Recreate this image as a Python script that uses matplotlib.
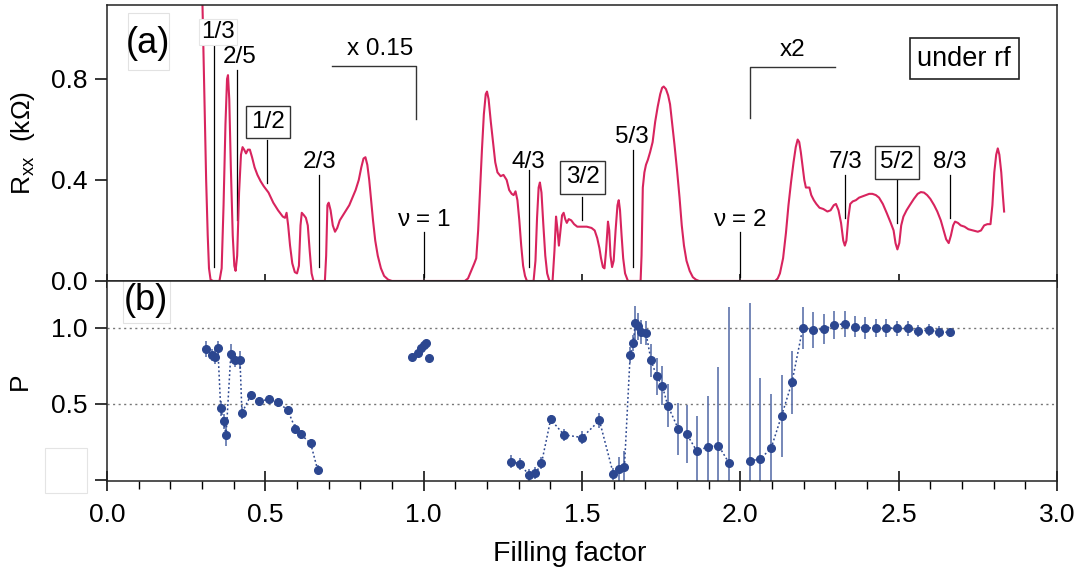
import numpy as np
import matplotlib
matplotlib.use("Agg")
from matplotlib import pyplot as plt
from matplotlib.patches import Rectangle
from matplotlib.ticker import MultipleLocator

plt.rcParams['font.family'] = ['Liberation Sans', 'DejaVu Sans']

# ---- panel (a): Rxx vs filling factor (kOhm) ----
nu_rxx = [0.298, 0.303, 0.308, 0.313, 0.318, 0.322, 0.327, 0.335, 0.355, 0.362,
          0.368, 0.374, 0.379, 0.382, 0.386, 0.391, 0.397, 0.402, 0.406, 0.411,
          0.417, 0.423, 0.428, 0.433, 0.439, 0.445, 0.451, 0.458, 0.466, 0.475,
          0.485, 0.495, 0.51, 0.525, 0.54, 0.555, 0.562, 0.567, 0.572, 0.578,
          0.585, 0.593, 0.600, 0.606, 0.611, 0.615, 0.622, 0.628, 0.634, 0.640,
          0.646, 0.652, 0.688, 0.692, 0.696, 0.700, 0.706, 0.713, 0.72, 0.727,
          0.735, 0.745, 0.755, 0.765, 0.775, 0.785, 0.795, 0.803, 0.81, 0.816,
          0.822, 0.828, 0.834, 0.84, 0.847, 0.855, 0.865, 0.875, 0.888, 0.90,
          1.13, 1.14, 1.15, 1.16, 1.166, 1.172, 1.178, 1.184, 1.19, 1.196,
          1.200, 1.205, 1.212, 1.219, 1.226, 1.233, 1.243, 1.252, 1.262, 1.27,
          1.278, 1.284, 1.29, 1.296, 1.302, 1.308, 1.314, 1.32, 1.326, 1.347,
          1.353, 1.358, 1.363, 1.367, 1.372, 1.378, 1.384, 1.39, 1.397, 1.407,
          1.413, 1.418, 1.422, 1.427, 1.432, 1.437, 1.442, 1.447, 1.452, 1.458,
          1.466, 1.475, 1.485, 1.5, 1.515, 1.53, 1.54, 1.548, 1.555, 1.56,
          1.566, 1.571, 1.576, 1.582, 1.586, 1.59, 1.595, 1.6, 1.606, 1.612,
          1.616, 1.62, 1.625, 1.63, 1.636, 1.645, 1.685, 1.688, 1.692, 1.697,
          1.702, 1.708, 1.715, 1.723, 1.731, 1.739, 1.747, 1.753, 1.758, 1.765,
          1.772, 1.778, 1.785, 1.792, 1.8, 1.808, 1.815, 1.822, 1.83, 1.84,
          1.85, 1.86, 1.87, 2.11, 2.118, 2.125, 2.135, 2.144, 2.152, 2.16,
          2.168, 2.175, 2.181, 2.186, 2.191, 2.196, 2.202, 2.207, 2.213, 2.218,
          2.224, 2.232, 2.24, 2.25, 2.262, 2.275, 2.285, 2.295, 2.302, 2.31,
          2.318, 2.325, 2.33, 2.335, 2.341, 2.347, 2.355, 2.365, 2.375, 2.386,
          2.397, 2.407, 2.417, 2.428, 2.438, 2.45, 2.462, 2.475, 2.484, 2.49,
          2.496, 2.502, 2.508, 2.515, 2.525, 2.535, 2.548, 2.56, 2.57, 2.58,
          2.59, 2.6, 2.612, 2.622, 2.633, 2.642, 2.65, 2.658, 2.665, 2.672,
          2.678, 2.687, 2.696, 2.708, 2.72, 2.735, 2.75, 2.76, 2.77, 2.78,
          2.79, 2.796, 2.802, 2.808, 2.813, 2.818, 2.824, 2.829, 2.833]
rxx = [1.30, 1.00, 0.70, 0.40, 0.18, 0.05, 0.005, 0.0, 0.0, 0.05,
       0.30, 0.62, 0.80, 0.815, 0.72, 0.45, 0.18, 0.06, 0.04, 0.10,
       0.35, 0.50, 0.53, 0.52, 0.505, 0.52, 0.52, 0.49, 0.45, 0.42,
       0.395, 0.375, 0.35, 0.31, 0.28, 0.255, 0.25, 0.27, 0.22, 0.14,
       0.07, 0.035, 0.03, 0.06, 0.22, 0.27, 0.26, 0.25, 0.22, 0.12,
       0.03, 0.0, 0.0, 0.10, 0.30, 0.31, 0.28, 0.22, 0.195, 0.21,
       0.24, 0.26, 0.28, 0.30, 0.33, 0.36, 0.40, 0.45, 0.485, 0.49,
       0.46, 0.40, 0.32, 0.24, 0.16, 0.10, 0.05, 0.02, 0.005, 0.0,
       0.0, 0.01, 0.04, 0.07, 0.09, 0.20, 0.36, 0.52, 0.66, 0.74,
       0.75, 0.72, 0.63, 0.55, 0.47, 0.43, 0.415, 0.42, 0.40, 0.36,
       0.345, 0.34, 0.355, 0.32, 0.24, 0.14, 0.06, 0.02, 0.0, 0.0,
       0.08, 0.25, 0.37, 0.39, 0.35, 0.22, 0.10, 0.03, 0.0, 0.0,
       0.12, 0.255, 0.21, 0.14, 0.20, 0.26, 0.27, 0.245, 0.23, 0.245,
       0.24, 0.225, 0.215, 0.215, 0.215, 0.21, 0.20, 0.17, 0.13, 0.09,
       0.055, 0.05, 0.12, 0.235, 0.20, 0.10, 0.055, 0.08, 0.20, 0.30,
       0.32, 0.28, 0.18, 0.09, 0.03, 0.0, 0.0, 0.10, 0.37, 0.43,
       0.46, 0.48, 0.51, 0.55, 0.63, 0.69, 0.74, 0.765, 0.77, 0.76,
       0.735, 0.70, 0.62, 0.54, 0.44, 0.33, 0.22, 0.14, 0.08, 0.04,
       0.015, 0.005, 0.0, 0.0, 0.01, 0.03, 0.09, 0.19, 0.30, 0.39,
       0.47, 0.53, 0.56, 0.55, 0.51, 0.46, 0.40, 0.37, 0.37, 0.37,
       0.34, 0.32, 0.305, 0.29, 0.285, 0.275, 0.28, 0.30, 0.305, 0.28,
       0.23, 0.16, 0.14, 0.16, 0.25, 0.305, 0.315, 0.32, 0.33, 0.335,
       0.34, 0.345, 0.345, 0.34, 0.33, 0.305, 0.27, 0.23, 0.20, 0.15,
       0.125, 0.15, 0.22, 0.255, 0.28, 0.30, 0.325, 0.345, 0.352, 0.35,
       0.34, 0.325, 0.30, 0.275, 0.24, 0.20, 0.165, 0.15, 0.18, 0.22,
       0.235, 0.23, 0.22, 0.215, 0.205, 0.20, 0.195, 0.20, 0.22, 0.225,
       0.225, 0.30, 0.43, 0.50, 0.525, 0.50, 0.43, 0.34, 0.275]

# fraction labels in panel (a)
frac_names = ['1/3', '2/5', '1/2', '2/3', '4/3', '3/2', '5/3', '7/3', '5/2', '8/3']
frac_nu = [0.337, 0.409, 0.505, 0.670, 1.332, 1.500, 1.662, 2.331, 2.496, 2.661]
boxed = ['1/2', '3/2', '5/2']
nu_int = [1, 2]

# ---- panel (b): polarization P, split into measured runs ----
nu_a = [0.314, 0.330, 0.341, 0.350, 0.359, 0.368, 0.376, 0.391, 0.403, 0.420,
        0.426, 0.454, 0.480, 0.511, 0.540, 0.571, 0.595, 0.611, 0.643, 0.665]
p_a = [0.86, 0.82, 0.81, 0.865, 0.47, 0.385, 0.295, 0.83, 0.785, 0.79,
       0.44, 0.555, 0.515, 0.53, 0.51, 0.457, 0.335, 0.30, 0.24, 0.066]
e_a = [0.05, 0.04, 0.05, 0.05, 0.05, 0.05, 0.07, 0.06, 0.04, 0.06,
       0.04, 0.03, 0.03, 0.03, 0.03, 0.03, 0.03, 0.03, 0.03, 0.03]

nu_b = [0.963, 0.982, 0.992, 1.000, 1.008, 1.016]
p_b = [0.81, 0.837, 0.866, 0.888, 0.898, 0.80]
e_b = [0.02, 0.02, 0.02, 0.02, 0.02, 0.02]

nu_c = [1.276, 1.304, 1.333, 1.353, 1.372, 1.401, 1.443, 1.500, 1.555, 1.599,
        1.616, 1.634, 1.652, 1.662, 1.668, 1.676, 1.685, 1.702, 1.718, 1.736,
        1.753, 1.771, 1.804, 1.831, 1.863, 1.897, 1.931, 1.965]
p_c = [0.12, 0.105, 0.03, 0.042, 0.108, 0.397, 0.296, 0.278, 0.39, 0.038,
       0.07, 0.087, 0.82, 0.90, 1.03, 1.01, 0.97, 0.965, 0.785, 0.68,
       0.62, 0.487, 0.335, 0.30, 0.187, 0.218, 0.225, 0.108]
e_c = [0.04, 0.04, 0.04, 0.04, 0.04, 0.03, 0.04, 0.04, 0.05, 0.04,
       0.08, 0.10, 0.05, 0.05, 0.11, 0.09, 0.08, 0.08, 0.11, 0.12,
       0.13, 0.14, 0.17, 0.19, 0.23, 0.33, 0.52, 1.03]

nu_d = [2.030, 2.063, 2.097, 2.130, 2.163, 2.197, 2.230, 2.263, 2.297, 2.330,
        2.363, 2.395, 2.428, 2.461, 2.495, 2.529, 2.562, 2.596, 2.628, 2.661]
p_d = [0.123, 0.138, 0.206, 0.42, 0.64, 0.997, 0.986, 0.99, 1.017, 1.027,
       1.007, 0.998, 1.0, 1.0, 0.995, 0.995, 0.976, 0.986, 0.97, 0.97]
e_d = [1.04, 0.53, 0.36, 0.27, 0.21, 0.14, 0.12, 0.10, 0.09, 0.085,
       0.07, 0.07, 0.06, 0.06, 0.05, 0.05, 0.04, 0.04, 0.04, 0.03]

pink = '#d8245e'
blue = '#2c4790'
ebar = '#5d72ab'
fs_tick = 19
fs_lab = 17.5

fig = plt.figure(figsize=(10.8, 5.76), dpi=100)
ax1 = fig.add_axes([0.0991, 0.5122, 0.8796, 0.4792])
ax2 = fig.add_axes([0.0991, 0.1649, 0.8796, 0.3472], sharex=ax1)

# ---------- panel (a) ----------
ln, = ax1.plot(nu_rxx, rxx, color=pink, lw=1.5, zorder=3)
ln.set_clip_path(Rectangle((0, -0.02), 1, 1.02, transform=ax1.transAxes))
ax1.set_xlim(0, 3.0)
ax1.set_ylim(0, 1.093)
ax1.set_yticks([0.0, 0.4, 0.8])
ax1.set_xticks(np.arange(0, 3.01, 0.5))
ax1.tick_params(axis='x', direction='inout', length=10, width=1.1,
                labelbottom=False)
ax1.tick_params(axis='y', direction='out', length=9, width=1.1,
                labelsize=fs_tick, pad=5)
ax1.set_ylabel(r'$\mathregular{R_{xx}}$  (k$\mathregular{\Omega}$)', fontsize=fs_tick)
ax1.yaxis.set_label_coords(-0.074, 0.5)

line_spans = {'1/3': (0.055, 0.943), '2/5': (0.242, 0.836), '1/2': (0.388, 0.558),
              '2/3': (0.055, 0.42), '4/3': (0.055, 0.44), '3/2': (0.242, 0.333),
              '5/3': (0.055, 0.519), '7/3': (0.25, 0.42), '5/2': (0.23, 0.40),
              '8/3': (0.25, 0.42)}
text_pos = {'1/3': (0.350, 0.985), '2/5': (0.420, 0.885), '1/2': (0.508, 0.63),
            '2/3': (0.672, 0.47), '4/3': (1.331, 0.47), '3/2': (1.502, 0.41),
            '5/3': (1.656, 0.57), '7/3': (2.334, 0.47), '5/2': (2.495, 0.47),
            '8/3': (2.662, 0.47)}
for name, nu in zip(frac_names, frac_nu):
    y0, y1 = line_spans[name]
    ax1.plot([nu, nu], [y0, y1], color='black', lw=0.9, zorder=2)
    tx, ty = text_pos[name]
    if name in boxed:
        bb = dict(boxstyle='square,pad=0.22', fc='white', ec='#333333', lw=1.0)
    elif name == '1/3':
        bb = dict(boxstyle='square,pad=0.08', fc='white', ec='#e6e6e6', lw=0.8)
    else:
        bb = None
    ax1.text(tx, ty, name, fontsize=fs_lab, ha='center', va='center', bbox=bb,
             zorder=4)

for n in nu_int:
    ax1.plot([n, n], [0.016, 0.194], color='black', lw=0.9)
    ax1.text(n, 0.242, r'$\mathregular{\nu}$ = %d' % n, fontsize=fs_lab,
             ha='center', va='center')

# scale brackets
ax1.plot([0.71, 0.975, 0.975], [0.853, 0.853, 0.642], color='#333333', lw=1.0)
ax1.text(0.861, 0.92, 'x 0.15', fontsize=fs_lab, ha='center', va='center')
ax1.plot([2.03, 2.03, 2.30], [0.646, 0.848, 0.848], color='#333333', lw=1.0)
ax1.text(2.164, 0.915, 'x2', fontsize=fs_lab, ha='center', va='center')
ax1.text(2.707, 0.88, 'under rf', fontsize=19.5, ha='center', va='center',
         bbox=dict(boxstyle='square,pad=0.28', fc='white', ec='#222222', lw=1.2))

# label patches for (a) and (b)
ax1.add_patch(Rectangle((21 / 950, 1 - 65 / 276), 41 / 950, 57 / 276,
                        transform=ax1.transAxes, fc='white', ec='#e2e2e2',
                        lw=0.8, zorder=4))
ax1.text(0.043, 0.862, '(a)', fontsize=26, ha='center', va='center',
         transform=ax1.transAxes, zorder=5)

# ---------- panel (b) ----------
for y in (0.5, 1.0):
    ax2.axhline(y, color='#777777', lw=1.0, ls=(0, (1.5, 2.5)), zorder=1)

for xs, ys, es, join in [(nu_a, p_a, e_a, True), (nu_b, p_b, e_b, False),
                         (nu_c, p_c, e_c, True), (nu_d, p_d, e_d, True)]:
    ax2.errorbar(xs, ys, yerr=es, fmt='none', ecolor=ebar, elinewidth=1.4,
                 capsize=0, alpha=0.85, zorder=2)
    if join:
        ax2.plot(xs, ys, color=blue, lw=1.1, ls=(0, (1.2, 1.6)), zorder=2)
    ax2.plot(xs, ys, 'o', color=blue, ms=5.5, mec=blue, zorder=3)

ax2.set_ylim(-0.008, 1.307)
ax2.set_yticks([0.0, 0.5, 1.0])
ax2.set_yticklabels(['', '0.5', '1.0'])
ax2.xaxis.set_major_locator(MultipleLocator(0.5))
ax2.xaxis.set_minor_locator(MultipleLocator(0.1))
ax2.tick_params(axis='x', which='major', direction='inout', length=15,
                width=1.1, labelsize=fs_tick, pad=8)
ax2.tick_params(axis='x', which='minor', direction='out', length=6, width=1.0)
ax2.tick_params(axis='y', direction='out', length=9, width=1.1,
                labelsize=fs_tick, pad=5)
ax2.set_ylabel('P', fontsize=fs_tick)
ax2.yaxis.set_label_coords(-0.079, 0.5)
ax2.set_xlabel('Filling factor', fontsize=20.5)
ax2.xaxis.set_label_coords(0.487, -0.3)
ax2.add_patch(Rectangle((16 / 950, 1 - 42 / 200), 47 / 950, 44 / 200,
                        transform=ax2.transAxes, fc='white', ec='#e2e2e2',
                        lw=0.8, zorder=4))
ax2.text(0.041, 0.905, '(b)', fontsize=26, ha='center', va='center',
         transform=ax2.transAxes, zorder=5)

for ax in (ax1, ax2):
    for s in ax.spines.values():
        s.set_linewidth(1.1)
        s.set_color('#222222')
        s.set_zorder(6)

# blank patch covering the lower-left corner label
fig.patches.append(Rectangle((45 / 1080, 1 - 493 / 576), 42 / 1080, 45 / 576,
                             transform=fig.transFigure, fc='white',
                             ec='#e4e4e4', lw=0.8, zorder=5))

plt.savefig('out.png', dpi=100)
